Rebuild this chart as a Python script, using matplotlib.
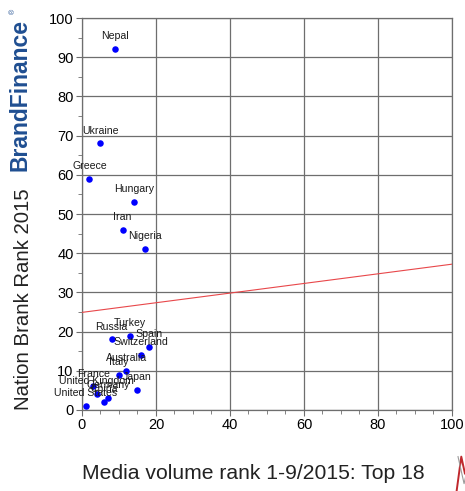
import matplotlib
matplotlib.use("Agg")
import matplotlib.pyplot as plt
from matplotlib.ticker import MultipleLocator
from matplotlib.lines import Line2D

plt.rcParams['font.family'] = ['Liberation Sans', 'DejaVu Sans']

countries = ["Nepal", "Ukraine", "Greece", "Hungary", "Iran", "Nigeria",
             "Russia", "Turkey", "Spain", "Switzerland", "Australia", "Italy",
             "France", "United Kingdom", "Germany", "China", "Japan", "United States"]
media_rank = [9, 5, 2, 14, 11, 17, 8, 13, 18, 16, 12, 10, 3, 4, 7, 6, 15, 1]
brand_rank = [92, 68, 59, 53, 46, 41, 18, 19, 16, 14, 10, 9, 6, 4, 3, 2, 5, 1]
trend_x = [0, 100]
trend_y = [24.9, 37.2]

xticks = [0, 20, 40, 60, 80, 100]
yticks = [0, 10, 20, 30, 40, 50, 60, 70, 80, 90, 100]

fig = plt.figure(figsize=(4.65, 4.91), dpi=100)
ax = fig.add_axes([0.1763, 0.165, 0.7957, 0.7983])

ax.set_xlim(0, 100)
ax.set_ylim(0, 100)
ax.set_xticks(xticks)
ax.set_yticks(yticks)
ax.xaxis.set_minor_locator(MultipleLocator(5))
ax.yaxis.set_minor_locator(MultipleLocator(5))
ax.grid(True, which='major', color='#6e6e6e', linewidth=0.9)
ax.set_axisbelow(True)
for s in ax.spines.values():
    s.set_color('#6e6e6e')
    s.set_linewidth(0.9)
ax.tick_params(which='both', direction='out', color='#6e6e6e', labelsize=10.5)
ax.tick_params(which='major', length=4)
ax.tick_params(which='minor', length=3)
ax.tick_params(axis='y', pad=2)
ax.tick_params(axis='x', pad=2)

ax.plot(trend_x, trend_y, color='#e8474a', linewidth=0.8, zorder=3)
ax.scatter(media_rank, brand_rank, s=22, color='#0000ff', zorder=4, linewidths=0)

for name, x, y in zip(countries, media_rank, brand_rank):
    ax.annotate(name, (x, y), xytext=(0, 9.3), textcoords='offset points',
                ha='center', va='center', fontsize=7.6, color='#1a1a1a', zorder=5)

fig.text(0.05, 0.165, "Nation Brank Rank 2015", rotation=90,
         fontsize=14.7, ha='center', va='bottom', color='#222222')
fig.text(0.043, 0.652, "BrandFinance", rotation=90, fontsize=16.5,
         fontweight='bold', ha='center', va='bottom', color='#1f4e91')
fig.text(0.03, 0.976, "®", rotation=90, fontsize=5, ha='center', va='center',
         color='#1f4e91')

fig.text(0.177, 0.036, "Media volume rank 1-9/2015: Top 18", fontsize=15.2,
         ha='left', va='center', color='#222222')

# logo fragment at bottom right
fig.add_artist(Line2D([0.982, 0.992, 1.0, 1.01], [0.0, 0.07, 0.035, 0.075],
                      transform=fig.transFigure, color='#c0282d', linewidth=1.4))
fig.add_artist(Line2D([0.985, 0.998, 1.01], [0.07, 0.015, 0.065],
                      transform=fig.transFigure, color='#9a9a9a', linewidth=0.8))

fig.savefig("out.png", dpi=100)
